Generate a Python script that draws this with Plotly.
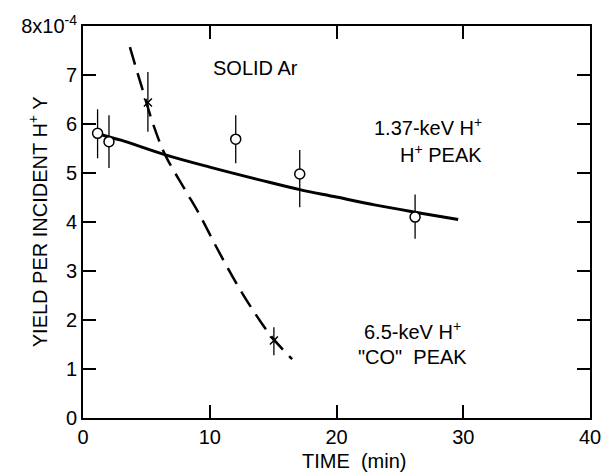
import plotly.graph_objects as go

# Data
circle_x = [1.15, 2.05, 12.05, 17.1, 26.2]
circle_y = [5.81, 5.64, 5.69, 4.98, 4.10]
circle_err_plus = [0.49, 0.54, 0.49, 0.49, 0.46]
circle_err_minus = [0.51, 0.54, 0.49, 0.68, 0.44]

cross_x = [5.12, 15.06]
cross_y = [6.44, 1.58]
cross_err_plus = [0.62, 0.27]
cross_err_minus = [0.60, 0.30]

fit_h_x = [1.2, 2, 3, 6.5, 10, 14.7, 17.1, 20, 23, 26.2, 29.6]
fit_h_y = [5.80, 5.74, 5.67, 5.37, 5.12, 4.81, 4.66, 4.51, 4.35, 4.20, 4.05]

fit_co_x = [3.7, 4.7, 5.65, 6.5, 8, 9.2, 10.5, 12.3, 14, 15, 16.5]
fit_co_y = [7.57, 6.7, 5.91, 5.36, 4.68, 4.15, 3.5, 2.66, 1.97, 1.62, 1.2]

x_ticks = [0, 10, 20, 30, 40]
y_ticks = [0, 1, 2, 3, 4, 5, 6, 7, 8]
y_ticktext = ["0", "1", "2", "3", "4", "5", "6", "7", "8x10<sup>-4</sup>"]

FONT = "Liberation Sans"
fig = go.Figure()

fig.add_trace(go.Scatter(x=fit_h_x, y=fit_h_y, mode="lines",
                         line=dict(color="black", width=3, shape="spline"),
                         showlegend=False, hoverinfo="skip"))
fig.add_trace(go.Scatter(x=fit_co_x, y=fit_co_y, mode="lines",
                         line=dict(color="black", width=2.5, shape="spline", dash="18px,9px"),
                         showlegend=False, hoverinfo="skip"))
fig.add_trace(go.Scatter(x=circle_x, y=circle_y, mode="markers",
                         marker=dict(symbol="circle", size=10, color="white",
                                     line=dict(color="black", width=1.5)),
                         error_y=dict(type="data", array=circle_err_plus, arrayminus=circle_err_minus,
                                      symmetric=False, color="black", thickness=1.3, width=0),
                         showlegend=False))
fig.add_trace(go.Scatter(x=cross_x, y=cross_y, mode="markers",
                         marker=dict(symbol="x-thin-open", size=8, color="black",
                                     line=dict(color="black", width=1.5)),
                         error_y=dict(type="data", array=cross_err_plus, arrayminus=cross_err_minus,
                                      symmetric=False, color="black", thickness=1.3, width=0),
                         showlegend=False))

axis_common = dict(showline=True, linecolor="black", linewidth=2, mirror="allticks",
                   ticks="inside", ticklen=13, tickwidth=1.5, tickcolor="black",
                   showgrid=False, zeroline=False,
                   tickfont=dict(family=FONT, size=20, color="black"))

fig.update_xaxes(range=[0, 40], tickvals=x_ticks, ticktext=[str(v) for v in x_ticks], **axis_common)
fig.update_yaxes(range=[0, 8], tickvals=y_ticks, ticktext=y_ticktext, **axis_common)

annotations = [
    dict(text="SOLID Ar", x=212, y=66, xanchor="left"),
    dict(text="1.37-keV H<sup>+</sup>", x=486, y=125, xanchor="right"),
    dict(text="H<sup>+</sup> PEAK", x=486, y=152, xanchor="right"),
    dict(text="6.5-keV H<sup>+</sup>", x=414, y=330, xanchor="center"),
    dict(text="\"CO\"  PEAK", x=414, y=357, xanchor="center"),
]
# convert pixel guides to data coords using axis scales
for a in annotations:
    px, py = a.pop("x"), a.pop("y")
    a["x"] = (px - 83) / 510 * 40
    a["y"] = (418 - py) / 394 * 8
    fig.add_annotation(xref="x", yref="y", showarrow=False, yanchor="middle",
                       font=dict(family=FONT, size=20, color="black"), **a)

fig.add_annotation(text="TIME  (min)", xref="paper", yref="paper", x=(356 - 83) / 510,
                   y=(418 - 461) / 394, showarrow=False, xanchor="center", yanchor="middle",
                   font=dict(family=FONT, size=20, color="black"))
fig.add_annotation(text="YIELD PER INCIDENT H<sup>+</sup> Y", xref="paper", yref="paper",
                   x=(37 - 83) / 510, y=0.5, textangle=-90, showarrow=False,
                   xanchor="center", yanchor="middle",
                   font=dict(family=FONT, size=20, color="black"))

fig.update_layout(width=613, height=473, margin=dict(l=83, r=20, t=24, b=55),
                  plot_bgcolor="white", paper_bgcolor="white")

fig.write_html("out.html")
